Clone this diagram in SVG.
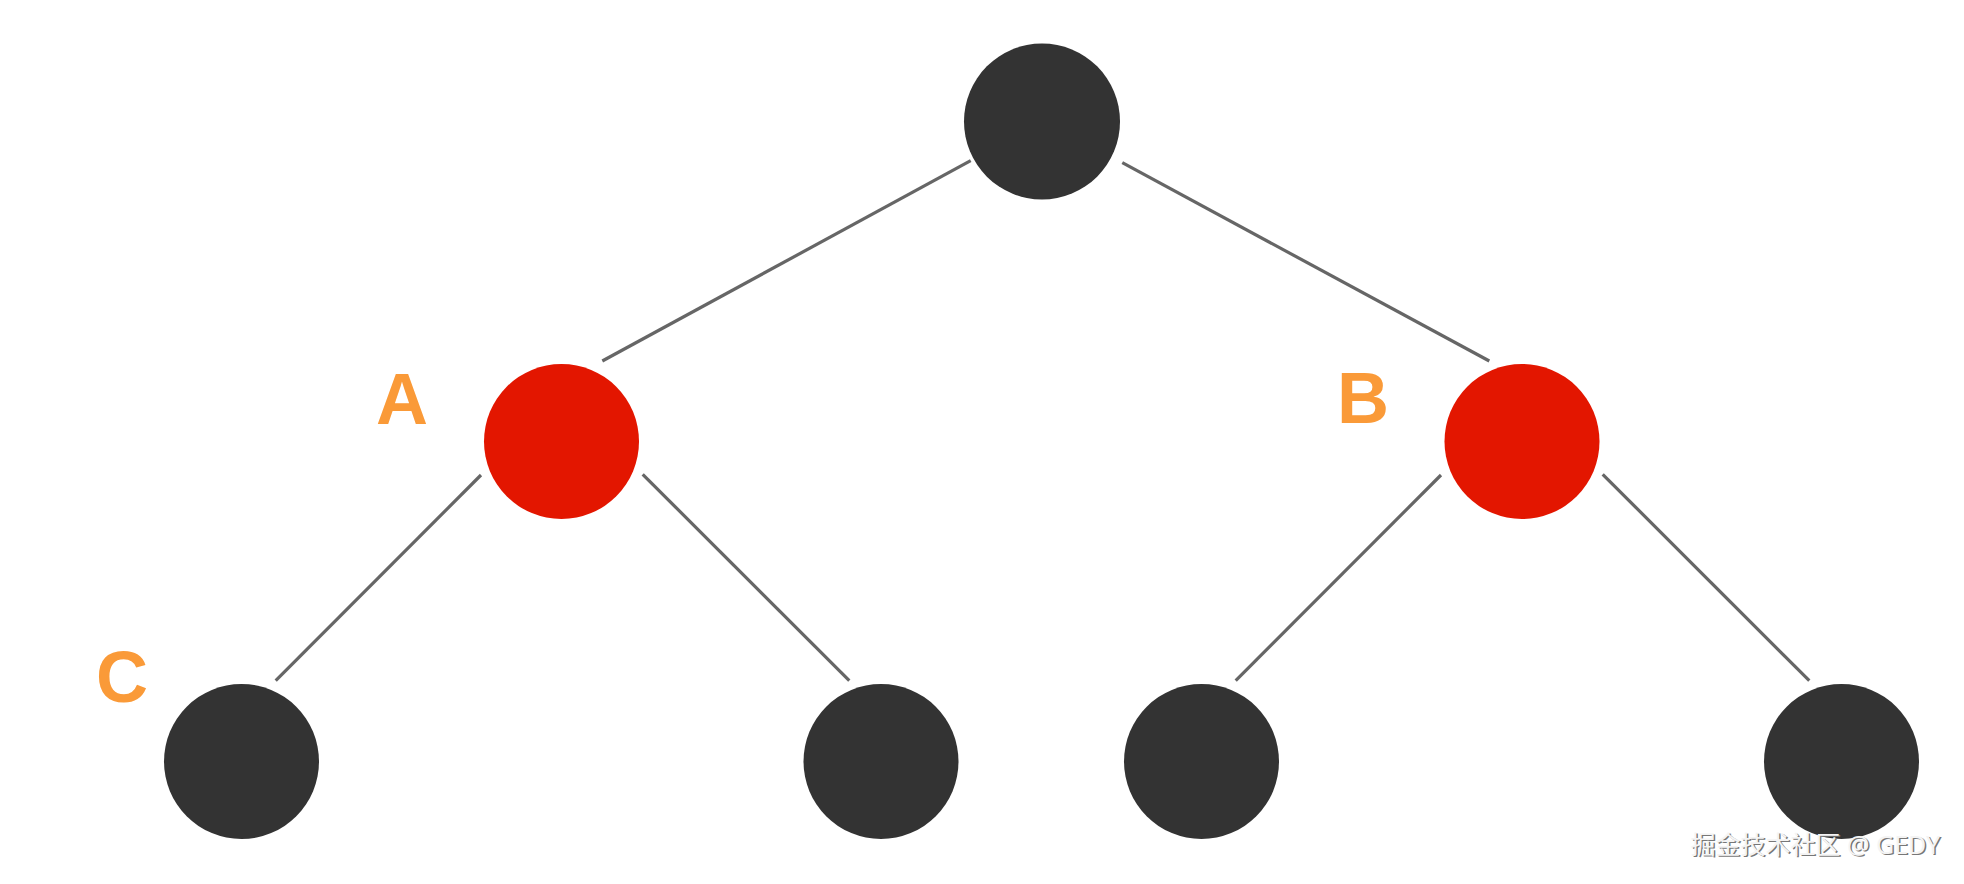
<svg xmlns="http://www.w3.org/2000/svg" width="1964" height="884" viewBox="0 0 1964 884">
<style>
.blk{fill:#333333}
.red{fill:#E31600}
.edge{stroke:#666666;stroke-width:3.2;fill:none}
.lbl{font-family:"Liberation Sans",Arial,sans-serif;font-weight:bold;font-size:72px;fill:#FA9A38;text-anchor:middle}
.wm{font-family:"Noto Sans","Noto Sans CJK SC",sans-serif;font-size:25px}
</style>
<rect width="1964" height="884" fill="#ffffff"/>
<g id="connectors">
<line class="edge" x1="970.7" y1="160.7" x2="602.3" y2="361"/>
<line class="edge" x1="1122.3" y1="162.7" x2="1489.3" y2="361"/>
<line class="edge" x1="481" y1="475" x2="275.7" y2="680.7"/>
<line class="edge" x1="642.7" y1="474.3" x2="849.3" y2="680.7"/>
<line class="edge" x1="1441" y1="475" x2="1235.7" y2="680.7"/>
<line class="edge" x1="1602.7" y1="474.3" x2="1809.3" y2="680.7"/>
</g>
<g id="root"><circle class="blk" cx="1042" cy="121.5" r="78"/></g>
<g id="nodeA"><circle class="red" cx="561.5" cy="441.5" r="77.5"/><text class="lbl" x="402" y="424">A</text></g>
<g id="nodeB"><circle class="red" cx="1522" cy="441.5" r="77.5"/><text class="lbl" x="1363" y="423">B</text></g>
<g id="nodeC"><circle class="blk" cx="241.5" cy="761.5" r="77.5"/><text class="lbl" x="122" y="702">C</text></g>
<g id="leaf2"><circle class="blk" cx="881" cy="761.5" r="77.5"/></g>
<g id="leaf3"><circle class="blk" cx="1201.5" cy="761.5" r="77.5"/></g>
<g id="leaf4"><circle class="blk" cx="1841.5" cy="761.5" r="77.5"/></g>
<g id="watermark">
<text class="wm" x="1692" y="855" fill="#777777">掘金技术社区 @ GEDY</text>
<text class="wm" x="1690.5" y="853.5" fill="#f4f4f4">掘金技术社区 @ GEDY</text>
</g>
</svg>
